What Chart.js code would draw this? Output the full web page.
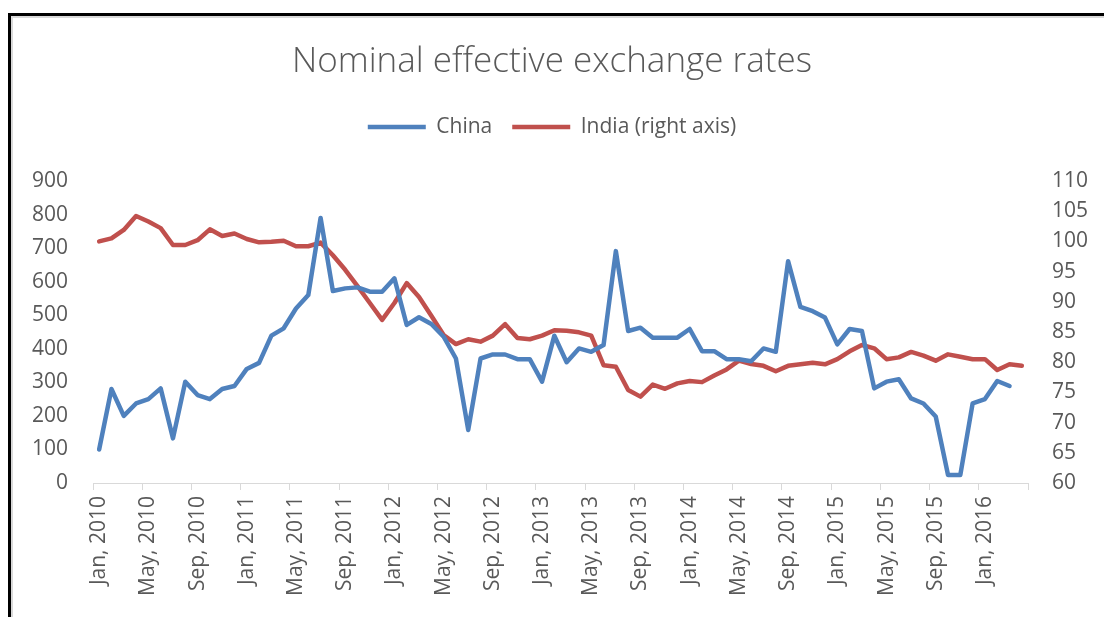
<!DOCTYPE html>
<html>
<head>
<meta charset="utf-8">
<script src="https://cdn.jsdelivr.net/npm/chart.js@4/dist/chart.umd.min.js"></script>
<style>
  html, body { margin: 0; padding: 0; background: #ffffff; }
  #wrap { position: relative; width: 1104px; height: 617px; overflow: hidden; }
  #frame { position: absolute; left: 8px; top: 13px; width: 1100px; height: 610px;
           border-top: 3px solid #000; border-left: 3px solid #000;
           box-shadow: inset 2px 2px 0 #d9d9d9; }
  #c { position: absolute; left: 0; top: 0; }
</style>
</head>
<body>
<div id="wrap">
  <div id="frame"></div>
  <canvas id="c" width="1104" height="617"></canvas>
</div>
<script>
// ---- data ----
const monthNames = ["Jan", "Feb", "Mar", "Apr", "May", "Jun", "Jul", "Aug", "Sep", "Oct", "Nov", "Dec"];
const years = [2010, 2011, 2012, 2013, 2014, 2015, 2016];
const monthCount = 76; // Jan 2010 .. Apr 2016

const chinaValues = [
  100, 280, 200, 237, 250, 282, 133, 302, 262, 250, 280, 289,
  340, 358, 439, 461, 520, 560, 790, 572, 580, 583, 570, 570,
  610, 471, 494, 474, 436, 371, 158, 371, 383, 383, 369, 369,
  302, 439, 360, 401, 391, 411, 691, 453, 463, 433, 433, 433,
  459, 393, 393, 369, 369, 363, 401, 391, 661, 525, 512, 493,
  413, 459, 453, 282, 302, 309, 252, 237, 198, 24, 24, 237,
  250, 304, 289
];
const indiaValues = [
  100.0, 100.5, 101.9, 104.2, 103.3, 102.2, 99.4, 99.4, 100.2, 102.0, 100.9, 101.3,
  100.4, 99.85, 99.95, 100.1, 99.2, 99.2, 99.8, 97.7, 95.3, 92.6, 89.8, 87.0,
  89.8, 93.1, 90.8, 87.7, 84.5, 83.0, 83.8, 83.4, 84.4, 86.3, 84.0, 83.8,
  84.4, 85.3, 85.2, 84.95, 84.4, 79.5, 79.25, 75.4, 74.3, 76.3, 75.6, 76.5,
  76.9, 76.7, 77.8, 78.8, 80.25, 79.7, 79.4, 78.5, 79.4, 79.65, 79.9, 79.65,
  80.5, 81.8, 82.85, 82.3, 80.5, 80.8, 81.7, 81.1, 80.25, 81.3, 80.9, 80.5,
  80.5, 78.7, 79.65, 79.4
];
const leftTicks = { min: 0, max: 900, step: 100 };
const rightTicks = { min: 60, max: 110, step: 5 };

const categories = [];
for (let i = 0; i < monthCount; i++) {
  categories.push(monthNames[i % 12] + ", " + years[Math.floor(i / 12)]);
}

const TXT = '#595959';
const FONT = "'Open Sans', 'DejaVu Sans', sans-serif";

new Chart(document.getElementById('c'), {
  type: 'line',
  data: {
    labels: categories,
    datasets: [
      { label: 'China', data: chinaValues, yAxisID: 'y',
        borderColor: '#4F81BD', backgroundColor: '#4F81BD', borderWidth: 4.5,
        pointRadius: 0, tension: 0, borderJoinStyle: 'round', borderCapStyle: 'round' },
      { label: 'India (right axis)', data: indiaValues, yAxisID: 'y1',
        borderColor: '#C0504D', backgroundColor: '#C0504D', borderWidth: 4.5,
        pointRadius: 0, tension: 0, borderJoinStyle: 'round', borderCapStyle: 'round' }
    ]
  },
  options: {
    responsive: false,
    animation: false,
    devicePixelRatio: 1,
    layout: { padding: 0 },
    plugins: {
      title: { display: true, text: 'Nominal effective exchange rates', color: TXT,
               font: { family: FONT, size: 35, weight: 300 }, padding: { top: 41, bottom: 13.4 } },
      subtitle: { display: true, text: '', weight: 500, font: { size: 10, lineHeight: 1 },
                  padding: { top: 23.6, bottom: 0 } },
      legend: { display: true, position: 'top',
        labels: { usePointStyle: true, pointStyle: 'line', pointStyleWidth: 58,
                  color: TXT, font: { family: FONT, size: 21 }, padding: 20 } },
      tooltip: { enabled: false }
    },
    scales: {
      x: {
        offset: true,
        grid: { display: true, offset: true, drawOnChartArea: false, drawTicks: true, tickLength: 7,
                tickColor: (ctx) => (ctx.type !== 'tick' || ctx.index % 4 === 0) ? '#d9d9d9' : 'rgba(0,0,0,0)' },
        border: { display: true, color: '#d9d9d9', width: 1 },
        ticks: { autoSkip: false, minRotation: 90, maxRotation: 90, padding: 6, color: TXT,
                 font: { family: FONT, size: 21 },
                 callback: function (v, i) { return i % 4 === 0 ? this.getLabelForValue(v) : ''; } },
        afterFit: (s) => { s.height = 134; }
      },
      y: {
        position: 'left', min: leftTicks.min, max: leftTicks.max,
        grid: { display: false, drawTicks: false }, border: { display: false },
        ticks: { stepSize: leftTicks.step, padding: 25, color: TXT, font: { family: FONT, size: 21 } },
        afterFit: (s) => { s.width = 93; }
      },
      y1: {
        position: 'right', min: rightTicks.min, max: rightTicks.max,
        grid: { display: false, drawTicks: false }, border: { display: false },
        ticks: { stepSize: rightTicks.step, padding: 24, color: TXT, font: { family: FONT, size: 21 } },
        afterFit: (s) => { s.width = 76; }
      }
    }
  }
});
</script>
</body>
</html>
